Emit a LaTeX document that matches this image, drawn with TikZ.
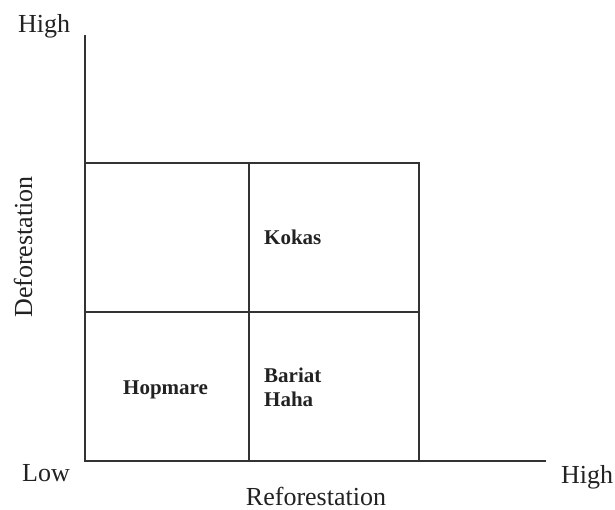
\documentclass[tikz,border=0pt]{standalone}
\usepackage{fontspec}
\setmainfont{Liberation Serif}
\definecolor{linegray}{HTML}{333333}
\definecolor{textgray}{HTML}{222222}
\begin{document}
\begin{tikzpicture}[x=1pt,y=-1pt,
  axisline/.style={draw=linegray,line width=1.3pt},
  gridline/.style={draw=linegray,line width=1.3pt},
  axlabel/.style={inner sep=0pt,text=textgray,font=\fontsize{26}{30}\selectfont},
  celllabel/.style={inner sep=0pt,text=textgray,font=\fontsize{21}{24}\selectfont\bfseries,align=left}]
\useasboundingbox (0,0) rectangle (615,510);
% axes
\coordinate (ytop) at (85,35);
\coordinate (origin) at (85,461);
\coordinate (xend) at (546,461);
\draw[axisline] (ytop) -- (origin) -- (xend);
% grid
\coordinate (gtl) at (85,163);
\coordinate (gbr) at (419,461);
\coordinate (mtop) at (249,163);
\coordinate (mbot) at (249,461);
\coordinate (hl) at (85,312);
\coordinate (hr) at (419,312);
\draw[gridline] (gtl) rectangle (gbr);
\draw[gridline] (mtop) -- (mbot);
\draw[gridline] (hl) -- (hr);
% axis labels
\node[axlabel,anchor=base west] (hightop) at (18,33) {High};
\node[axlabel,anchor=base west] (low) at (22,481) {Low};
\node[axlabel,anchor=base west] (highright) at (561,483) {High};
\node[axlabel,anchor=base] (refor) at (316,505) {Reforestation};
\node[axlabel,anchor=base,rotate=90] (defor) at (32,247) {Deforestation};
% cell labels
\node[celllabel,anchor=base west] (kokas) at (264,245) {Kokas};
\node[celllabel,anchor=base west] (hopmare) at (123,394) {Hopmare};
\node[celllabel,anchor=north west] (bariat) at (264,368) {Bariat\\Haha};
\end{tikzpicture}
\end{document}
